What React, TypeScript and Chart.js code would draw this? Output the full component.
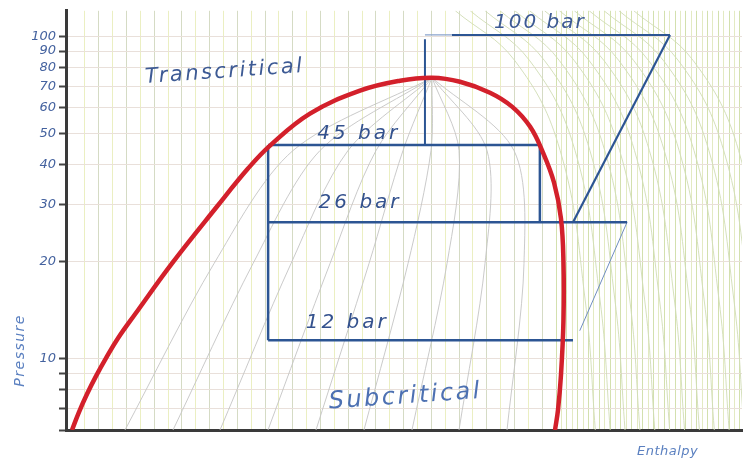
import React, { useEffect, useRef } from "react";
import { Chart, registerables } from "chart.js";

Chart.register(...registerables);

// ---- Data (enthalpy in relative units 0-100, pressure in bar) ----
const domeEnthalpy = [0.89, 1.92, 3.11, 4.44, 5.92, 7.69, 10.21, 15.68, 22.34, 26.92, 30.18, 36.09, 43.49, 49.41, 54.14, 58.28, 62.72, 65.98, 68.64, 70.56, 72.19, 73.22, 73.59, 73.59, 73.22, 72.78, 72.34];
const domePressure = [6.0, 6.82, 7.76, 8.82, 10.03, 11.56, 13.72, 19.74, 29.64, 38.87, 45.8, 57.55, 67.8, 72.8, 74.4, 72.3, 66.85, 60.5, 52.45, 43.57, 35.18, 27.2, 19.88, 13.15, 8.88, 6.92, 6.0];

const gasCoolerFaintH = [53.1, 57.1];
const gasCoolerFaintP = [101, 101];
const gasCoolerH = [57.1, 89.35];
const gasCoolerP = [101, 101];
const compressor100H = [89.35, 75.0];
const compressor100P = [101, 26.5];
const criticalStemH = [53.1, 53.1];
const criticalStemP = [98, 46];
const bar45H = [29.9, 70.1, 70.1];
const bar45P = [46, 46, 26.5];
const bar26H = [29.9, 83.0];
const bar26P = [26.5, 26.5];
const compressor26H = [83.0, 76.0];
const compressor26P = [26.5, 12.2];
const bar12H = [29.9, 75.0];
const bar12P = [11.4, 11.4];
const expansionH = [29.9, 29.9];
const expansionP = [46, 11.4];

// quality lines inside the dome: enthalpy at 6 bar, 19.7 bar, 44.2 bar, then the critical point
const qualityPressure = [6.0, 19.7, 44.2, 74.4];
const quality10 = [8.73, 21.89, 33.58, 54.14];
const quality20 = [15.83, 27.66, 37.57, 54.14];
const quality30 = [22.78, 33.28, 41.72, 54.14];
const quality40 = [29.88, 39.05, 45.86, 54.14];
const quality50 = [36.98, 44.82, 49.85, 54.14];
const quality60 = [44.08, 50.59, 53.99, 54.14];
const quality70 = [51.18, 56.36, 58.14, 54.14];
const quality80 = [58.14, 61.98, 62.28, 54.14];
const quality90 = [65.24, 67.75, 66.27, 54.14];

// isotherms in the vapour / supercritical region
const isothermPressure = [120, 84, 44.2, 15.2, 6.0];
const isotherm0 = [57.6, 66.4, 73.1, 76.8, 78.3];
const isotherm1 = [59.8, 68.6, 75.3, 79.0, 80.5];
const isotherm2 = [62.0, 70.8, 77.5, 81.2, 82.7];
const isotherm3 = [64.2, 73.0, 79.7, 83.4, 84.9];
const isotherm4 = [66.4, 75.2, 81.9, 85.6, 87.1];
const isotherm5 = [68.6, 77.4, 84.1, 87.8, 89.3];
const isotherm6 = [70.8, 79.6, 86.3, 90.0, 91.5];
const isotherm7 = [73.0, 81.8, 88.5, 92.2, 93.7];
const isotherm8 = [75.2, 84.0, 90.7, 94.4, 95.9];
const isotherm9 = [77.4, 86.2, 92.9, 96.6, 98.1];
const isotherm10 = [79.6, 88.4, 95.1, 98.8, 100.3];
const isotherm11 = [81.8, 90.6, 97.3, 101.0, 102.5];
const isotherm12 = [84.0, 92.8, 99.5, 103.0, 104.7];

const yTickValues = [6, 7, 8, 9, 10, 20, 30, 40, 50, 60, 70, 80, 90, 100];
const yTickLabels = ["", "", "", "", "10", "20", "30", "40", "50", "60", "70", "80", "90", "100"];

const noteTexts = ["Transcritical", "Subcritical", "100 bar", "45 bar", "26 bar", "12 bar", "Pressure", "Enthalpy"];
const noteEnthalpy = [23.5, 50.2, 70.1, 43.3, 43.5, 41.6, -6.8, 89.0];
const notePressureAt = [77.5, 7.6, 110.2, 49.9, 30.5, 12.87, 10.6, 5.13];

// ---- styling ----
const noteStyle = [
  { size: 21, rot: -4, color: "#3d5a94", spacing: 2.5 },
  { size: 24, rot: -4, color: "#4d71b2", spacing: 2.5 },
  { size: 20, rot: 0, color: "#3d5a94", spacing: 2 },
  { size: 20, rot: 0, color: "#34528e", spacing: 3 },
  { size: 20, rot: 0, color: "#34528e", spacing: 3 },
  { size: 20, rot: 0, color: "#34528e", spacing: 3 },
  { size: 14, rot: -90, color: "#5b80c0", spacing: 1.5 },
  { size: 13, rot: 0, color: "#5b80c0", spacing: 0.5 },
];

const gridSplit = 72.5;
const xGridValues: number[] = [];
for (let v = 2.8; v < gridSplit; v += 2.05) xGridValues.push(+v.toFixed(2));
for (let v = gridSplit; v <= 100; v += 0.8) xGridValues.push(+v.toFixed(2));

const pts = (h: number[], p: number[]) => h.map((v, i) => ({ x: v, y: p[i] }));

const BLUE = "#2c5593";

const notePlugin = {
  id: "handNotes",
  afterDatasetsDraw(chart: any) {
    const { ctx, scales } = chart;
    const xs = scales.x;
    const ys = scales.y;
    noteTexts.forEach((t, i) => {
      const st = noteStyle[i];
      const px = xs.getPixelForValue(noteEnthalpy[i]);
      const py = ys.getPixelForValue(notePressureAt[i]);
      ctx.save();
      ctx.translate(px, py);
      ctx.rotate((st.rot * Math.PI) / 180);
      ctx.font = `italic ${st.size}px "DejaVu Sans"`;
      try {
        (ctx as any).letterSpacing = `${st.spacing}px`;
      } catch (e) {}
      ctx.fillStyle = st.color;
      ctx.textAlign = "center";
      ctx.textBaseline = "middle";
      ctx.fillText(t, 0, 0);
      ctx.restore();
    });
  },
};

export default function App() {
  const ref = useRef<HTMLCanvasElement | null>(null);
  useEffect(() => {
    if (!ref.current) return;
    const line = (data: any, color: string, width: number, order: number, tension = 0) => ({
      data,
      showLine: true,
      borderColor: color,
      borderWidth: width,
      pointRadius: 0,
      tension,
      order,
      fill: false,
    });
    const qualities = [quality10, quality20, quality30, quality40, quality50, quality60, quality70, quality80, quality90];
    const isotherms = [isotherm0, isotherm1, isotherm2, isotherm3, isotherm4, isotherm5, isotherm6, isotherm7, isotherm8, isotherm9, isotherm10, isotherm11, isotherm12];
    const datasets: any[] = [
      line(pts(domeEnthalpy, domePressure), "#d3202b", 4.5, 0, 0.4),
      line(pts(gasCoolerFaintH, gasCoolerFaintP), "#8aa3cc", 1.2, 1),
      line(pts(gasCoolerH, gasCoolerP), BLUE, 2, 1),
      line(pts(compressor100H, compressor100P), BLUE, 2.2, 1),
      line(pts(criticalStemH, criticalStemP), BLUE, 2, 1),
      line(pts(bar45H, bar45P), BLUE, 2.5, 1),
      line(pts(bar26H, bar26P), BLUE, 2.5, 1),
      line(pts(compressor26H, compressor26P), "#6f8dc0", 1, 1),
      line(pts(bar12H, bar12P), BLUE, 2.5, 1),
      line(pts(expansionH, expansionP), BLUE, 2.5, 1),
      ...qualities.map((q) => line(pts(q, qualityPressure), "#c4c4c4", 0.9, 2, 0.3)),
      ...isotherms.map((q) => line(pts(q, isothermPressure), "#d0dcb4", 0.9, 2, 0.4)),
    ];
    const chart = new Chart(ref.current, {
      type: "scatter",
      data: { datasets },
      options: {
        responsive: false,
        animation: false,
        layout: { padding: { top: 10, right: 5, left: 0, bottom: 0 } },
        plugins: { legend: { display: false }, tooltip: { enabled: false } },
        scales: {
          x: {
            type: "linear",
            min: 0,
            max: 100,
            afterFit(s: any) {
              s.height = 31;
            },
            afterBuildTicks(s: any) {
              s.ticks = xGridValues.map((v) => ({ value: v }));
            },
            ticks: { display: false },
            grid: {
              drawTicks: false,
              lineWidth: 1,
              color: (c: any) => {
                const v = c.tick ? c.tick.value : 0;
                if (v < gridSplit) return c.index % 2 ? "#d5dbc4" : "#ebefc2";
                return c.index % 2 ? "#d3e0ae" : "#e3eac2";
              },
            },
            border: { display: true, color: "#3a3a3a", width: 3 },
          },
          y: {
            type: "logarithmic",
            min: 6,
            max: 120,
            afterFit(s: any) {
              s.width = 66;
            },
            afterBuildTicks(s: any) {
              s.ticks = yTickValues.map((v) => ({ value: v }));
            },
            ticks: {
              autoSkip: false,
              padding: 3,
              color: "#44629f",
              font: { family: "DejaVu Sans", style: "italic", size: 13 },
              callback: (v: any) => {
                const i = yTickValues.indexOf(Number(v));
                return i >= 0 ? yTickLabels[i] : "";
              },
            },
            grid: { color: "#e9e0da", lineWidth: 1, tickColor: "#444", tickLength: 7, tickWidth: 2 },
            border: { display: true, color: "#3a3a3a", width: 3 },
          },
        },
      },
      plugins: [notePlugin],
    } as any);
    return () => chart.destroy();
  }, []);
  return (
    <div style={{ position: "absolute", left: 0, top: 0, width: 747, height: 461, background: "#fff" }}>
      <canvas ref={ref} width={747} height={461} style={{ display: "block" }} />
    </div>
  );
}
